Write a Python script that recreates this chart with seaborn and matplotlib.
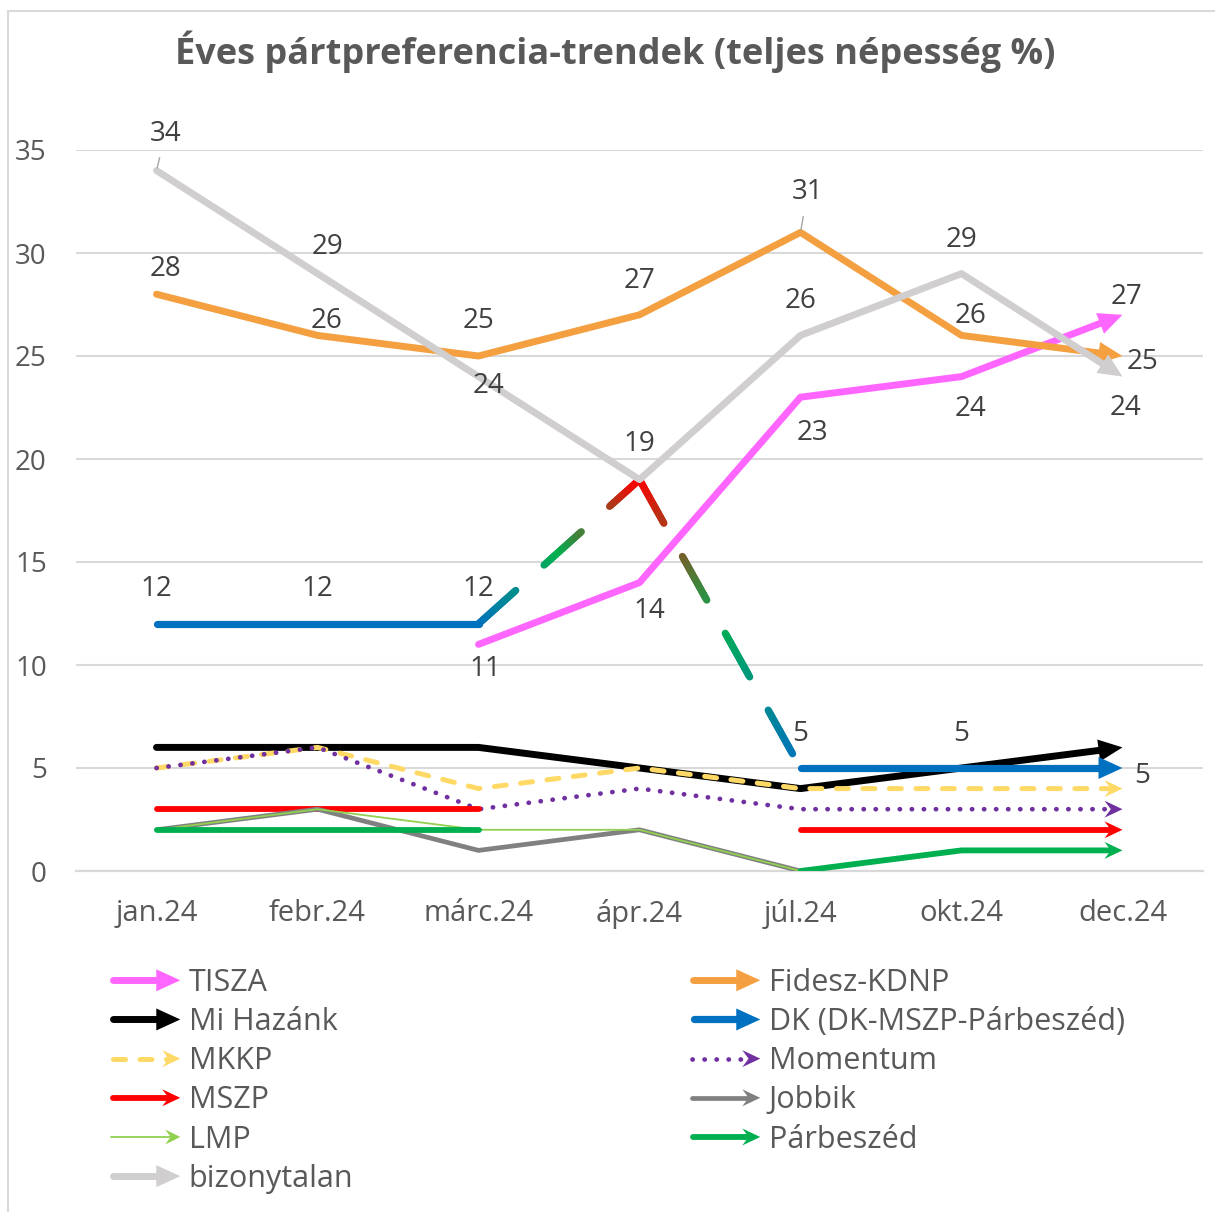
import numpy as np
import pandas as pd
import seaborn as sns
import matplotlib
matplotlib.use("Agg")
import matplotlib.pyplot as plt
from matplotlib.collections import LineCollection
from matplotlib.colors import LinearSegmentedColormap
from matplotlib.patches import Polygon, Rectangle
from matplotlib.legend_handler import HandlerBase
from matplotlib.lines import Line2D

nan = np.nan

# --- data -----------------------------------------------------------------
months = ["jan.24", "febr.24", "márc.24", "ápr.24", "júl.24", "okt.24", "dec.24"]
tisza = [nan, nan, 11, 14, 23, 24, 27]
fidesz = [28, 26, 25, 27, 31, 26, 25]
mi_hazank = [6, 6, 6, 5, 4, 5, 6]
dk = [12, 12, 12, nan, 5, 5, 5]
dk_joint = [nan, nan, 12, 19, 5, nan, nan]   # közös lista (EP-választás)
mkkp = [5, 6, 4, 5, 4, 4, 4]
momentum = [5, 6, 3, 4, 3, 3, 3]
mszp = [3, 3, 3, nan, 2, 2, 2]
jobbik = [2, 3, 1, 2, 0, nan, nan]
lmp = [2, 3, 2, 2, 0, nan, nan]
parbeszed = [2, 2, 2, nan, 0, 1, 1]
bizonytalan = [34, 29, 24, 19, 26, 29, 24]

series = {
    "TISZA": tisza, "Fidesz-KDNP": fidesz, "Mi Hazánk": mi_hazank,
    "DK (DK-MSZP-Párbeszéd)": dk, "MKKP": mkkp, "Momentum": momentum,
    "MSZP": mszp, "Jobbik": jobbik, "LMP": lmp, "Párbeszéd": parbeszed,
    "bizonytalan": bizonytalan,
}

# --- styles ---------------------------------------------------------------
THICK = dict(hl=24, hw=22, notch=0.0)
THIN = dict(hl=18, hw=17, notch=0.35)
SMALL = dict(hl=15, hw=15, notch=0.35)

STYLE = {
    "TISZA": dict(color="#FF66FF", lw=5.0, ls="-", head=THICK, arrow=True),
    "Fidesz-KDNP": dict(color="#F4A041", lw=5.0, ls="-", head=THICK, arrow=True),
    "Mi Hazánk": dict(color="#000000", lw=5.0, ls="-", head=THICK, arrow=True),
    "DK (DK-MSZP-Párbeszéd)": dict(color="#0070C0", lw=5.2, ls="-", head=THICK, arrow=True),
    "MKKP": dict(color="#FFD966", lw=3.6, ls=(0, (2.4, 2.9)), head=THIN, arrow=True),
    "Momentum": dict(color="#7030A0", lw=3.4, ls=(0, (0.05, 2.5)), head=THIN, arrow=True),
    "MSZP": dict(color="#FF0000", lw=4.2, ls="-", head=THIN, arrow=True),
    "Jobbik": dict(color="#808080", lw=3.4, ls="-", head=THIN, arrow=False),
    "LMP": dict(color="#92D050", lw=1.3, ls="-", head=SMALL, arrow=False),
    "Párbeszéd": dict(color="#00B050", lw=4.2, ls="-", head=THIN, arrow=True),
    "bizonytalan": dict(color="#D0CECE", lw=5.0, ls="-", head=THICK, arrow=True),
}

# data label offsets in pixels (dx, dy up), None = no label
LABELS = {
    "bizonytalan": [(9, 40), (10, 30), (10, -6), (0, 39), (0, 37), (0, 37), (3, -28)],
    "Fidesz-KDNP": [(9, 28), (9, 17), (0, 38), (0, 37), (7, 43), (9, 22), (20, -3)],
    "TISZA": [None, None, (7, -22), (10, -25), (12, -33), (9, -29), (4, 21)],
    "DK (DK-MSZP-Párbeszéd)": [(0, 38), (0, 38), (0, 38), None, (0, 37), (0, 37), (20, -5)],
}
LEADERS = {("bizonytalan", 0), ("Fidesz-KDNP", 4)}

GRID = "#D9D9D9"
TEXT = "#595959"
LABEL_TXT = "#404040"

sns.set_theme(style="white")
plt.rcParams["font.family"] = ["Open Sans", "DejaVu Sans"]

W, H = 1215, 1212
fig = plt.figure(figsize=(W / 100, H / 100), dpi=100)
ax = fig.add_axes([76 / W, 1 - 871 / H, (1203 - 76) / W, (871 - 150) / H])
ax.set_xlim(-0.5, 6.5)
ax.set_ylim(0, 35)

x = np.arange(len(months), dtype=float)


def head_poly(tip, u, length, width, notch):
    n = np.array([-u[1], u[0]])
    base = tip - length * u
    return np.array([tip, base + n * width / 2, base + u * length * notch, base - n * width / 2])


def end_arrow(xs, ys, st, z):
    idx = np.where(~np.isnan(ys))[0]
    i0, i1 = idx[-2], idx[-1]
    p = ax.transData.transform([[xs[i0], ys[i0]], [xs[i1], ys[i1]]])
    d = p[1] - p[0]
    u = d / np.hypot(*d)
    h = st["head"]
    inv = ax.transData.inverted()
    poly = inv.transform(head_poly(p[1], u, h["hl"], h["hw"], h["notch"]))
    ax.add_patch(Polygon(poly, closed=True, facecolor=st["color"], edgecolor="none", zorder=z + 0.1))
    return i1, inv.transform(p[1] - u * h["hl"] * 0.6)


def plot_runs(xs, ys, st, z):
    ys = np.asarray(ys, dtype=float)
    xs = xs.copy()
    if st["arrow"]:
        i1, new_end = end_arrow(xs, ys, st, z)
        xs[i1], ys[i1] = new_end
    valid = ~np.isnan(ys)
    runs, cur = [], []
    for i, v in enumerate(valid):
        if v:
            cur.append(i)
        elif cur:
            runs.append(cur); cur = []
    if cur:
        runs.append(cur)
    for r in runs:
        if len(r) < 2:
            continue
        df = pd.DataFrame({"x": xs[r], "y": ys[r]})
        sns.lineplot(data=df, x="x", y="y", ax=ax, sort=False, estimator=None, legend=False,
                     color=st["color"], lw=st["lw"], linestyle=st["ls"],
                     solid_capstyle="round", solid_joinstyle="round",
                     dash_capstyle="round", dash_joinstyle="round", zorder=z)


def gradient_dash(xs, ys, vparams, cmap, lw_px, on, off, z):
    m = ~np.isnan(ys)
    pts = ax.transData.transform(np.column_stack([xs[m], np.asarray(ys)[m]]))
    segs, cols = [], []
    for k in range(len(pts) - 1):
        p0, p1 = pts[k], pts[k + 1]
        L = np.hypot(*(p1 - p0))
        u = (p1 - p0) / L
        start = 0.0
        while start < L:
            end = min(start + on, L)
            ss = np.linspace(start, end, max(int((end - start) / 2), 2))
            for a, b in zip(ss[:-1], ss[1:]):
                segs.append([p0 + u * a, p0 + u * b])
                f = (a + b) / 2 / L
                cols.append(cmap(vparams[k] + (vparams[k + 1] - vparams[k]) * f))
            start += on + off
    inv = ax.transData.inverted()
    segs = [inv.transform(np.array(s)) for s in segs]
    lc = LineCollection(segs, colors=cols, linewidths=lw_px * 0.72, capstyle="round", zorder=z)
    ax.add_collection(lc)


# lines
for z, (name, vals) in enumerate(series.items()):
    if name == "bizonytalan":
        gradient_dash(x, np.asarray(dk_joint, dtype=float), [0.0, 1.0, 0.0],
                      LinearSegmentedColormap.from_list("dk", ["#0070C0", "#00B050", "#FF0000"]),
                      7.2, 50, 38, 3 + z)
    plot_runs(x, vals, STYLE[name], 3 + z)

# grid & axes
ax.set_xlim(-0.5, 6.5)
ax.set_ylim(0, 35)
ax.set_yticks(range(0, 36, 5))
ax.grid(axis="y", color=GRID, lw=1.5)
ax.grid(axis="x", visible=False)
ax.set_axisbelow(True)
for s in ["left", "right", "top"]:
    ax.spines[s].set_visible(False)
ax.spines["bottom"].set_color(GRID)
ax.spines["bottom"].set_linewidth(1.6)
ax.set_xticks(x)
ax.set_xticklabels(months)
ax.set_xticks(np.arange(-0.5, len(months), 1), minor=True)
ax.tick_params(axis="x", which="major", length=0, pad=20, labelsize=21, labelcolor=TEXT)
ax.tick_params(axis="x", which="minor", length=8, width=1.5, color=GRID)
ax.tick_params(axis="y", length=0, pad=21, labelsize=20, labelcolor=TEXT)
ax.set_xlabel("")
ax.set_ylabel("")

# data labels
for name, offs in LABELS.items():
    vals = series[name]
    for i, off in enumerate(offs):
        if off is None:
            continue
        kw = {}
        if (name, i) in LEADERS:
            kw["arrowprops"] = dict(arrowstyle="-", color="#A6A6A6", lw=1.0, shrinkA=5, shrinkB=2)
        ax.annotate(f"{vals[i]:g}", xy=(x[i], vals[i]), xytext=(off[0], off[1] - 3),
                    textcoords="offset pixels", ha="center", va="center",
                    fontsize=20, color=LABEL_TXT, zorder=20, annotation_clip=False, **kw)

# title
fig.text(615 / W, 1 - 52 / H, "Éves pártpreferencia-trendek (teljes népesség %)",
         ha="center", va="center", fontsize=26, fontweight="bold", color=TEXT)

# outer border
fig.patches.append(Rectangle((8 / W, -0.1), 1.2, 1.1 - 11 / H, transform=fig.transFigure,
                             fill=False, edgecolor=GRID, lw=1.5))


# legend with arrow handles
class ArrowHandler(HandlerBase):
    def __init__(self, st):
        super().__init__()
        self.st = st

    def create_artists(self, legend, orig_handle, xdescent, ydescent, width, height, fontsize, trans):
        st = self.st
        y = height / 2 - ydescent
        x0, x1 = -xdescent, -xdescent + width
        h = st["head"]
        hl, hw = h["hl"] * 0.72, h["hw"] * 0.72
        line = Line2D([x0 + st["lw"] / 2, x1 - hl * 0.6], [y, y], color=st["color"], lw=st["lw"],
                      linestyle=st["ls"], solid_capstyle="round", dash_capstyle="round")
        line.set_transform(trans)
        head = Polygon(head_poly(np.array([x1, y]), np.array([1.0, 0.0]), hl, hw, h["notch"]),
                       closed=True, facecolor=st["color"], edgecolor="none", transform=trans)
        return [line, head]


names = list(series.keys())
cols = [names[0::2], names[1::2]]
lefts = [110 / W, 690 / W]
for col, left in zip(cols, lefts):
    handles = [Line2D([], [], color=STYLE[n]["color"]) for n in col]
    hmap = {hd: ArrowHandler(STYLE[n]) for hd, n in zip(handles, col)}
    fig.legend(handles, col, handler_map=hmap, loc="upper left",
               bbox_to_anchor=(left, 1 - 968 / H), frameon=False, fontsize=22,
               handlelength=2.3, handletextpad=0.28, labelspacing=0.3,
               borderpad=0, borderaxespad=0, labelcolor=TEXT)

fig.savefig("out.png", dpi=100)
